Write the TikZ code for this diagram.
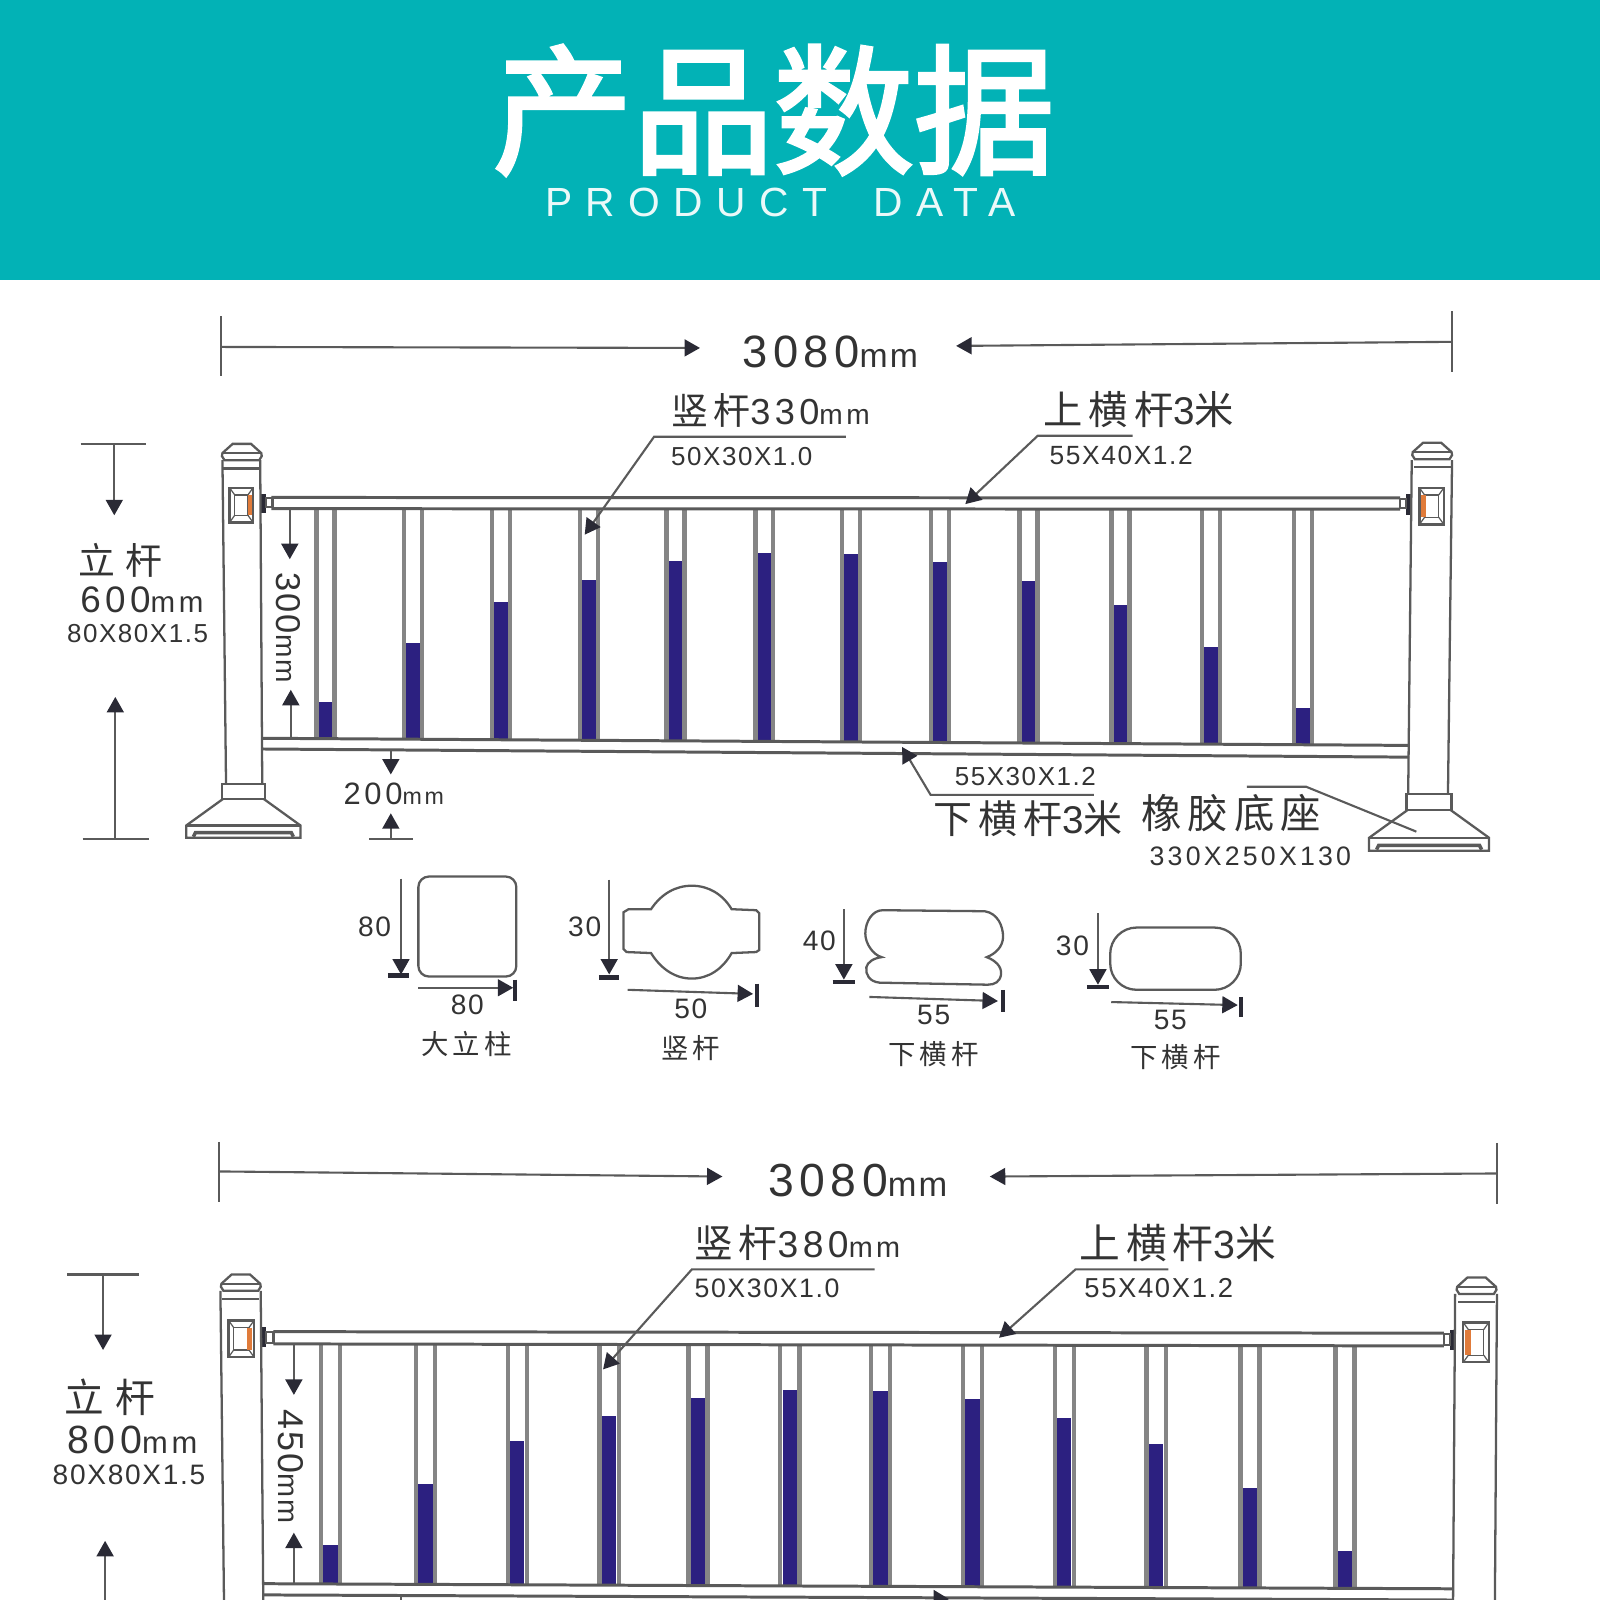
\documentclass[tikz,border=0pt]{standalone}
\usepackage{fontspec}
\setmainfont{Liberation Sans}
\newfontfamily\lat[LetterSpace=12]{Liberation Sans}
\newfontfamily\latn[LetterSpace=6]{Liberation Sans}
\newfontfamily\cjk[LetterSpace=15]{Noto Sans CJK SC}
\newfontfamily\cjktitle[FakeBold=2.4]{Noto Sans CJK SC}
\newfontfamily\latwide[LetterSpace=33]{Liberation Sans}
\usetikzlibrary{arrows.meta}

\definecolor{bannerteal}{HTML}{02B2B6}
\definecolor{barblue}{HTML}{2C2080}
\definecolor{plaqueorange}{HTML}{E07B3A}
\definecolor{inkgray}{HTML}{333333}
\definecolor{linegray}{HTML}{5A5A5A}
\definecolor{picketgray}{HTML}{858585}
\definecolor{tipdark}{HTML}{2A2A35}

\newcommand{\nf}[1]{\fontsize{#1pt}{#1pt}\lat}
\newcommand{\nn}[1]{\fontsize{#1pt}{#1pt}\latn}
\newcommand{\cf}[1]{\fontsize{#1pt}{#1pt}\cjk}

\tikzset{
  lbl/.style={inner sep=0pt, anchor=base west, text=inkgray},
  lblc/.style={inner sep=0pt, anchor=center, text=inkgray},
  dimarrow/.style={draw=linegray, line width=0.6pt, -{Triangle[length=4.4pt,width=4.8pt,color=tipdark]}},
  dimline/.style={draw=linegray, line width=0.6pt},
  stopbar/.style={draw=tipdark, line width=1.2pt},
  postline/.style={draw=linegray, line width=0.65pt},
  railline/.style={draw=linegray, line width=0.85pt},
  picketline/.style={draw=picketgray, line width=1.25pt},
  secline/.style={draw=linegray, line width=0.65pt}
}

% x centre, top of rail, top of the blue part, bottom, half spread
\newcommand{\picket}[5]{
  \fill[barblue] (#1-7,#3) rectangle (#1+7,#4);
  \draw[picketline] (#1-#5,#2) -- (#1-#5,#4);
  \draw[picketline] (#1+#5,#2) -- (#1+#5,#4);
}
% x centre, top
\newcommand{\postcap}[2]{
  \draw[postline, fill=white] (#1-9,#2) -- (#1+9,#2) -- (#1+19,#2+9) -- (#1+19.5,#2+12) -- (#1+17,#2+16)
    -- (#1-17,#2+16) -- (#1-19.5,#2+12) -- (#1-19,#2+9) -- cycle;
  \draw[postline] (#1-19,#2+9) -- (#1+19,#2+9);
  \draw[postline] (#1-18,#2+24) -- (#1+18,#2+24);
}
% x centre, top of collar, size factor
\newcommand{\postbase}[3]{
  \draw[postline, fill=white] (#1-21*#3,#2) rectangle (#1+21*#3,#2+15*#3);
  \draw[postline] (#1-20*#3,#2+15*#3) -- (#1-56*#3,#2+41*#3) -- (#1-56*#3,#2+53*#3) -- (#1+56*#3,#2+53*#3)
    -- (#1+56*#3,#2+41*#3) -- (#1+20*#3,#2+15*#3);
  \draw[postline] (#1-56*#3,#2+41*#3) -- (#1+56*#3,#2+41*#3);
  \draw[postline, line width=1pt] (#1-49*#3,#2+52*#3) -- (#1-47*#3,#2+48*#3) -- (#1+47*#3,#2+48*#3) -- (#1+49*#3,#2+52*#3);
}
% x1, y1, x2, y2, orange x1, orange x2
\newcommand{\plaque}[6]{
  \draw[postline, fill=white] (#1,#2) rectangle (#3,#4);
  \draw[draw=linegray, line width=0.35pt] (#1+5,#2+7) rectangle (#3-5,#4-7);
  \draw[draw=linegray, line width=0.35pt] (#1,#2) -- (#1+5,#2+7) (#3,#2) -- (#3-5,#2+7) (#1,#4) -- (#1+5,#4-7) (#3,#4) -- (#3-5,#4-7);
  \fill[plaqueorange] (#5,#2+7) rectangle (#6,#4-7);
}

\begin{document}
\begin{tikzpicture}[x=0.0102040816cm,y=-0.0102040816cm]
\useasboundingbox (0,0) rectangle (1568,1568);
\clip (0,0) rectangle (1568,1568);

% banner
\fill[bannerteal] (0,0) rectangle (1568,274);
\draw (758,160) node (title) [inner sep=0pt, anchor=base, text=white] {\fontsize{40pt}{40pt}\cjktitle 产品数据};
\draw (765,212) node (subtitle) [inner sep=0pt, anchor=base, text=white!92!bannerteal] {\fontsize{11.6pt}{12pt}\latwide PRODUCT\hspace{6pt} DATA};

% first fence: width
\draw[dimline] (217,310) -- (217,368);
\draw[dimline] (1423,305) -- (1423,365);
\coordinate (w1a) at (217,340); \coordinate (w1b) at (686,341);
\draw[dimarrow] (w1a) -- (w1b);
\coordinate (w2a) at (1423,335); \coordinate (w2b) at (937,339);
\draw[dimarrow] (w2a) -- (w2b);
\draw (727,360) node (w1) [lbl] {\nf{12.9}3080\nn{9.6}mm};

% first fence: pickets
\picket{319}{499}{688}{724}{8.8}
\picket{405}{499}{630}{724.4}{8.8}
\picket{491}{499}{590}{725}{8.8}
\picket{577}{499}{568}{725.5}{8.8}
\picket{662}{499}{550}{726}{8.8}
\picket{749}{499}{542}{726.5}{8.8}
\picket{834}{499}{543}{727}{8.8}
\picket{921}{499}{551}{727.6}{8.8}
\picket{1008}{499}{569}{728}{8.8}
\picket{1098}{499}{593}{728.7}{8.8}
\picket{1187}{499}{634}{729.3}{8.8}
\picket{1277}{499}{694}{730}{8.8}

% first fence: rails
\draw[railline] (266,487.5) -- (1372,488);
\draw[railline] (266,498.5) -- (1372,499);
\draw[railline] (257,723.5) -- (1381,730.5);
\draw[railline] (257,734) -- (1381,742);
\fill[tipdark] (256,484) rectangle (261,503);
\draw[postline] (261,488) rectangle (267,497);
\fill[tipdark] (1378,484) rectangle (1383,505);
\draw[postline] (1372,489) rectangle (1378,498);

% first fence: posts
\draw[postline] (218,451) -- (221.5,768);
\draw[postline] (255,451) -- (257,768);
\draw[postline] (1383.5,451) -- (1380,778);
\draw[postline] (1423,451) -- (1419,778);
\postcap{237}{435}
\postcap{1403.5}{434}
\postbase{238.5}{768}{1}
\postbase{1400.5}{778}{1.05}
\plaque{225}{478}{248}{512}{243}{247}
\plaque{1391}{478}{1415}{514}{1392.5}{1397}

% first fence: height
\draw[dimline] (79,435) -- (143,435);
\draw[dimline] (81,822) -- (146,822);
\coordinate (h1a) at (112,435); \coordinate (h1b) at (112,505);
\draw[dimarrow] (h1a) -- (h1b);
\coordinate (h2a) at (113,822); \coordinate (h2b) at (113,683);
\draw[dimarrow] (h2a) -- (h2b);
\draw (76,563) node (h1) [lbl] {\cf{10.5}立\hspace{3pt}杆};
\draw (78,600) node (h2) [lbl] {\nf{10.5}600\nf{8.4}mm};
\draw (65,630) node (h3) [lbl] {\nn{7.4}80X80X1.5};

\coordinate (p1a) at (284,499); \coordinate (p1b) at (284,548);
\draw[dimarrow] (p1a) -- (p1b);
\coordinate (p2a) at (285,724); \coordinate (p2b) at (285,676);
\draw[dimarrow] (p2a) -- (p2b);
\draw (283,615) node (p1) [lblc, rotate=-90] {\nn{9.8}300\nn{8}mm};

\coordinate (g1a) at (383,735); \coordinate (g1b) at (383,759);
\draw[dimarrow] (g1a) -- (g1b);
\coordinate (g2a) at (383,822); \coordinate (g2b) at (383,797);
\draw[dimarrow] (g2a) -- (g2b);
\draw[dimline] (362,822) -- (405,822);
\draw (336,788) node (g1) [lbl] {\nf{8.8}200\nf{6.6}mm};

% first fence: labels
\draw (657,416) node (v1) [lbl] {\cf{10.5}竖杆\nf{10.3}330\nf{8}mm};
\draw (657,456) node (v2) [lbl] {\nn{7.4}50X30X1.0};
\coordinate (v1a) at (829,428); \coordinate (v1b) at (641,428); \coordinate (v1c) at (573,524);
\draw[dimarrow] (v1a) -- (v1b) -- (v1c);
\draw (1022,416) node (u1) [lbl] {\cf{11.2}上横杆\nf{11}3\cf{11.2}米};
\draw (1028,455) node (u2) [lbl] {\nn{7.5}55X40X1.2};
\coordinate (u1a) at (1110,427); \coordinate (u1b) at (1017,427); \coordinate (u1c) at (946,494);
\draw[dimarrow] (u1a) -- (u1b) -- (u1c);
\draw (935,770) node (l2) [lbl] {\nn{7.4}55X30X1.2};
\draw (914,817) node (l1) [lbl] {\cf{11.1}下横杆\nf{11}3\cf{11.1}米};
\coordinate (l1a) at (1072,779); \coordinate (l1b) at (912,779); \coordinate (l1c) at (884,732);
\draw[dimarrow] (l1a) -- (l1b) -- (l1c);
\draw (1118,812) node (b1) [lbl] {\cf{11.5}橡胶底座};
\draw (1126,848) node (b2) [lbl] {\nf{7.6}330X250X130};
\coordinate (b1a) at (1222,771); \coordinate (b1b) at (1280,771); \coordinate (b1c) at (1388,815);
\draw[dimline] (b1a) -- (b1b) -- (b1c);

% cross sections
\draw[secline, rounded corners=3pt] (410,859) rectangle (506,957);
\coordinate (s1a) at (393,861); \coordinate (s1b) at (393,955);
\draw[dimarrow] (s1a) -- (s1b);
\draw[stopbar] (380,956) -- (401,956);
\coordinate (s1c) at (410,968); \coordinate (s1d) at (503,968);
\draw[dimarrow] (s1c) -- (s1d);
\draw[stopbar] (505,960) -- (505,981);
\draw (367,908) node (s1) [lblc] {\nn{8}80};
\draw (458,985) node (s2) [lblc] {\nn{8}80};
\draw (457,1023) node (s3) [lblc] {\cf{7.8}大立柱};

\draw[secline] (616,891) -- (638,891) .. controls (648,876) and (662,868) .. (678,868)
  .. controls (694,868) and (708,876) .. (717,891) -- (741,892) -- (744,895) -- (744,931) -- (741,933) -- (717,934)
  .. controls (708,950) and (694,959) .. (678,959) .. controls (662,959) and (648,950) .. (638,934)
  -- (614,933) -- (611,930) -- (611,894) -- cycle;
\coordinate (s4a) at (597,862); \coordinate (s4b) at (597,955);
\draw[dimarrow] (s4a) -- (s4b);
\draw[stopbar] (587,958) -- (607,958);
\coordinate (s4c) at (615,970); \coordinate (s4d) at (738,974);
\draw[dimarrow] (s4c) -- (s4d);
\draw[stopbar] (742,964) -- (742,987);
\draw (573,908) node (s4) [lblc] {\nn{8}30};
\draw (677,989) node (s5) [lblc] {\nn{8}50};
\draw (677,1027) node (s6) [lblc] {\cf{7.8}竖杆};

\draw[secline] (865,892) -- (965,893) .. controls (978,895) and (983,908) .. (983,918)
  .. controls (983,928) and (975,935) .. (967,938) .. controls (975,941) and (982,947) .. (981,955)
  .. controls (980,962) and (975,965) .. (968,965) -- (862,963) .. controls (852,962) and (848,955) .. (849,948)
  .. controls (850,943) and (856,939) .. (864,938) .. controls (856,936) and (848,925) .. (848,915)
  .. controls (848,903) and (855,892) .. (865,892) -- cycle;
\coordinate (s7a) at (827,891); \coordinate (s7b) at (827,960);
\draw[dimarrow] (s7a) -- (s7b);
\draw[stopbar] (816,962) -- (838,962);
\coordinate (s7c) at (852,977); \coordinate (s7d) at (978,981);
\draw[dimarrow] (s7c) -- (s7d);
\draw[stopbar] (983,970) -- (983,992);
\draw (803,922) node (s7) [lblc] {\nn{8}40};
\draw (915,995) node (s8) [lblc] {\nn{8}55};
\draw (915,1033) node (s9) [lblc] {\cf{7.8}下横杆};

\draw[secline, rounded corners=7.5pt] (1088,909) rectangle (1216,970);
\coordinate (s10a) at (1076,895); \coordinate (s10b) at (1076,965);
\draw[dimarrow] (s10a) -- (s10b);
\draw[stopbar] (1065,967) -- (1087,967);
\coordinate (s10c) at (1089,982); \coordinate (s10d) at (1213,985);
\draw[dimarrow] (s10c) -- (s10d);
\draw[stopbar] (1216,977) -- (1216,997);
\draw (1051,927) node (s10) [lblc] {\nn{8}30};
\draw (1147,1000) node (s11) [lblc] {\nn{8}55};
\draw (1152,1036) node (s12) [lblc] {\cf{7.8}下横杆};

% second fence: width
\draw[dimline] (215,1119) -- (215,1178);
\draw[dimline] (1467,1120) -- (1467,1180);
\coordinate (w3a) at (215,1148); \coordinate (w3b) at (708,1153);
\draw[dimarrow] (w3a) -- (w3b);
\coordinate (w4a) at (1467,1150); \coordinate (w4b) at (970,1153);
\draw[dimarrow] (w4a) -- (w4b);
\draw (752,1173) node (w2) [lbl] {\nf{13.2}3080\nn{9.8}mm};

% second fence: pickets
\picket{324}{1317}{1514}{1552.3}{9.4}
\picket{417}{1317}{1454}{1552.7}{9.4}
\picket{507}{1317}{1412}{1553}{9.4}
\picket{597}{1317}{1388}{1553.5}{9.4}
\picket{684}{1317}{1370}{1554}{9.4}
\picket{774}{1318}{1362}{1554}{9.4}
\picket{863}{1318}{1363}{1554.6}{9.4}
\picket{953}{1318}{1371}{1555}{9.4}
\picket{1043}{1318}{1390}{1555.4}{9.4}
\picket{1133}{1318}{1415}{1555.8}{9.4}
\picket{1225}{1319}{1458}{1556.2}{9.4}
\picket{1318}{1319}{1520}{1556.6}{9.4}

% second fence: rails
\draw[railline] (268,1305) -- (1415,1306.5);
\draw[railline] (268,1317) -- (1415,1319);
\draw[railline] (258,1552) -- (1424,1557);
\draw[railline] (258,1563) -- (1424,1568);
\fill[tipdark] (256,1300) rectangle (261,1320);
\draw[postline] (261,1305) rectangle (268,1316);
\fill[tipdark] (1421,1303) rectangle (1426,1323);
\draw[postline] (1415,1307) rectangle (1421,1318);

% second fence: posts
\draw[postline] (216,1265) -- (219.5,1568);
\draw[postline] (255.5,1265) -- (258,1568);
\draw[postline] (1426,1268) -- (1424,1568);
\draw[postline] (1467,1268) -- (1465,1568);
\postcap{236}{1249}
\postcap{1447}{1252}
\plaque{224}{1294}{249}{1330}{242}{247}
\plaque{1434}{1296}{1459}{1335}{1436}{1442}

% second fence: height
\draw[dimline] (66,1249) -- (136,1249);
\coordinate (h3a) at (101,1249); \coordinate (h3b) at (101,1323);
\draw[dimarrow] (h3a) -- (h3b);
\coordinate (h4a) at (103,1580); \coordinate (h4b) at (103,1510);
\draw[dimarrow] (h4a) -- (h4b);
\draw (63,1384) node (h4) [lbl] {\cf{11.3}立\hspace{3pt}杆};
\draw (65,1424) node (h5) [lbl] {\nf{11.2}800\nf{8.8}mm};
\draw (51,1455) node (h6) [lbl] {\nn{8}80X80X1.5};

\coordinate (p3a) at (288,1318); \coordinate (p3b) at (288,1367);
\draw[dimarrow] (p3a) -- (p3b);
\coordinate (p4a) at (288,1552); \coordinate (p4b) at (288,1502);
\draw[dimarrow] (p4a) -- (p4b);
\draw (285,1437) node (p2) [lblc, rotate=-90] {\nn{10.2}450\nn{8.2}mm};

\draw[dimline] (393,1563) -- (393,1575);

% second fence: labels
\draw (680,1232) node (v3) [lbl] {\cf{11}竖杆\nf{10.6}380\nf{8.2}mm};
\draw (680,1272) node (v4) [lbl] {\nn{7.6}50X30X1.0};
\coordinate (v3a) at (857,1244); \coordinate (v3b) at (678,1244); \coordinate (v3c) at (591,1342);
\draw[dimarrow] (v3a) -- (v3b) -- (v3c);
\draw (1057,1233) node (u3) [lbl] {\cf{11.6}上横杆\nf{11.2}3\cf{11.6}米};
\draw (1062,1272) node (u4) [lbl] {\nn{7.8}55X40X1.2};
\coordinate (u3a) at (1145,1244); \coordinate (u3b) at (1054,1244); \coordinate (u3c) at (979,1311);
\draw[dimarrow] (u3a) -- (u3b) -- (u3c);
\coordinate (l3a) at (933,1590); \coordinate (l3b) at (915,1558);
\draw[dimarrow] (l3a) -- (l3b);
\end{tikzpicture}
\end{document}
